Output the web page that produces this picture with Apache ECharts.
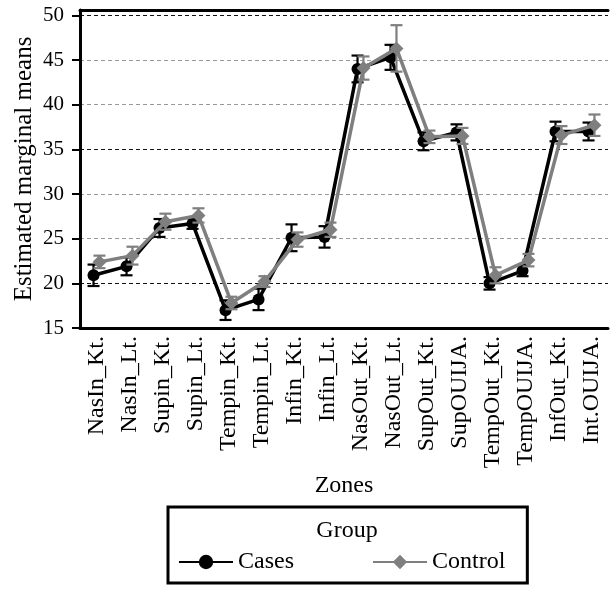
<!DOCTYPE html>
<html>
<head>
<meta charset="utf-8">
<script src="https://cdn.jsdelivr.net/npm/echarts@6/dist/echarts.min.js"></script>
<style>
  html, body { margin: 0; padding: 0; background: #fff; }
  #container { width: 616px; height: 589px; }
</style>
</head>
<body>
<div id="container"></div>
<script>
var zones = ['NasIn_Kt.', 'NasIn_Lt.', 'Supin_Kt.', 'Supin_Lt.', 'Tempin_Kt.', 'Tempin_Lt.',
    'Infin_Kt.', 'Infin_Lt.', 'NasOut_Kt.', 'NasOut_Lt.', 'SupOut_Kt.', 'SupOUIJA.',
    'TempOut_Kt.', 'TempOUIJA.', 'InfOut_Kt.', 'Int.OUIJA.'];

// means
var cases = [20.9, 21.9, 26.2, 26.7, 17.0, 18.2, 25.1, 25.2, 44.0, 45.3, 35.9, 36.9, 20.0, 21.4, 37.0, 37.0];
var casesErr = [1.2, 1.0, 1.0, 0.6, 1.1, 1.2, 1.5, 1.2, 1.5, 1.4, 1.0, 0.9, 0.7, 0.6, 1.1, 1.0];
var control = [22.4, 23.1, 26.9, 27.6, 17.8, 20.2, 24.9, 26.0, 44.1, 46.3, 36.4, 36.5, 20.9, 22.6, 36.6, 37.7];
var controlErr = [0.7, 1.0, 0.9, 0.8, 0.7, 0.6, 0.8, 0.8, 1.3, 2.6, 0.7, 0.9, 0.9, 0.7, 1.0, 1.2];

var dodge = 0.09;
var font = 'Liberation Serif';

var myChart = echarts.init(document.getElementById('container'));

function errBars(color) {
    return function (params, api) {
        var x = api.value(0), y = api.value(1), e = api.value(2);
        var top = api.coord([x, y + e]);
        var bot = api.coord([x, y - e]);
        var w = 6;
        var st = {stroke: color, lineWidth: 2.2};
        return {
            type: 'group',
            children: [
                {type: 'line', shape: {x1: top[0], y1: top[1], x2: bot[0], y2: bot[1]}, style: st},
                {type: 'line', shape: {x1: top[0] - w, y1: top[1], x2: top[0] + w, y2: top[1]}, style: st},
                {type: 'line', shape: {x1: bot[0] - w, y1: bot[1], x2: bot[0] + w, y2: bot[1]}, style: st}
            ]
        };
    };
}

var option = {
    animation: false,
    textStyle: {fontFamily: font},
    grid: {left: 80, right: 8, top: 10, bottom: 261, outerBoundsMode: 'none'},
    xAxis: [
        {
            type: 'category',
            data: zones,
            name: 'Zones',
            nameLocation: 'middle',
            nameGap: 146,
            nameMoveOverlap: false,
            nameTextStyle: {fontFamily: font, fontSize: 24, color: '#000'},
            axisLine: {onZero: false, lineStyle: {color: '#000', width: 3}},
            axisTick: {alignWithLabel: true, length: 8, lineStyle: {color: '#000', width: 2}},
            axisLabel: {rotate: 90, interval: 0, margin: 8, fontFamily: font, fontSize: 24, color: '#000'}
        },
        {
            // hidden value axis that carries the points; drawn at top as the frame line
            type: 'value',
            position: 'top',
            min: -0.5,
            max: 15.5,
            axisLine: {show: true, onZero: false, lineStyle: {color: '#000', width: 3}},
            axisTick: {show: false},
            axisLabel: {show: false},
            splitLine: {show: false}
        }
    ],
    yAxis: {
        type: 'value',
        min: 15,
        max: 50.6,
        interval: 5,
        name: 'Estimated marginal means',
        nameLocation: 'middle',
        nameGap: 43,
        nameMoveOverlap: false,
        nameTextStyle: {fontFamily: font, fontSize: 25, color: '#000'},
        axisLine: {show: true, onZero: false, lineStyle: {color: '#000', width: 3}},
        axisTick: {show: true, length: 8, lineStyle: {color: '#000', width: 2}},
        axisLabel: {showMaxLabel: false, margin: 16, fontFamily: font, fontSize: 21, color: '#000'},
        splitLine: {lineStyle: {type: [4, 3], width: 1.2, color: ['#999', '#111', '#999']}}
    },
    legend: {
        data: ['Cases', 'Control'],
        left: 168,
        top: 507,
        orient: 'horizontal',
        padding: [43, 22, 9, 10],
        itemGap: 78,
        itemWidth: 54,
        itemHeight: 18,
        borderColor: '#000',
        borderWidth: 3,
        backgroundColor: '#fff',
        textStyle: {fontFamily: font, fontSize: 24, color: '#000'}
    },
    graphic: [{
        type: 'text',
        x: 347,
        y: 531,
        z: 100,
        style: {text: 'Group', font: '24px "Liberation Serif"', fill: '#000', align: 'center', verticalAlign: 'middle'}
    }],
    series: [
        {
            name: 'Cases SE',
            type: 'custom',
            xAxisIndex: 1,
            z: 2,
            renderItem: errBars('#000'),
            data: cases.map(function (v, i) { return [i - dodge, v, casesErr[i]]; })
        },
        {
            name: 'Cases',
            type: 'line',
            xAxisIndex: 1,
            z: 3,
            symbol: 'circle',
            symbolSize: 12,
            itemStyle: {color: '#000'},
            lineStyle: {color: '#000', width: 3.5},
            data: cases.map(function (v, i) { return [i - dodge, v]; })
        },
        {
            name: 'Control SE',
            type: 'custom',
            xAxisIndex: 1,
            z: 4,
            renderItem: errBars('#7f7f7f'),
            data: control.map(function (v, i) { return [i + dodge, v, controlErr[i]]; })
        },
        {
            name: 'Control',
            type: 'line',
            xAxisIndex: 1,
            z: 5,
            symbol: 'diamond',
            symbolSize: 14,
            itemStyle: {color: '#7f7f7f'},
            lineStyle: {color: '#7f7f7f', width: 3.5},
            data: control.map(function (v, i) { return [i + dodge, v]; })
        }
    ]
};
myChart.setOption(option);
</script>
</body>
</html>
